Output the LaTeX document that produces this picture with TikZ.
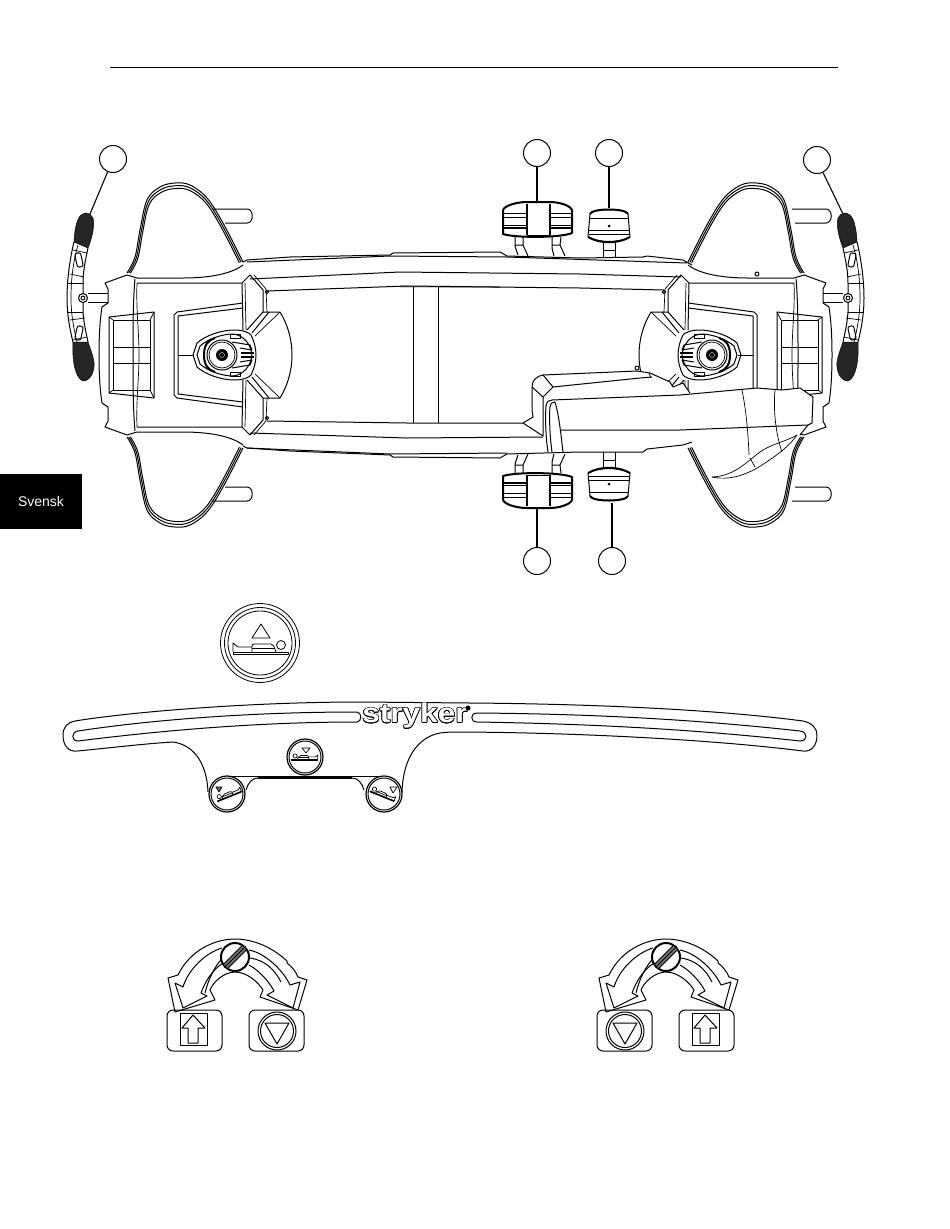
\documentclass[tikz,border=0pt]{standalone}
\usepackage{fontspec}
\setmainfont{Liberation Sans}
\usepackage{contour}
\contourlength{.55pt}

\tikzset{
    part/.style={line width=1pt},
    fine/.style={line width=.7pt},
    heavy/.style={line width=2pt},
    callout/.style={draw, circle, minimum size=27pt, inner sep=0pt, line width=1pt},
    leader/.style={line width=1.1pt},
    grip/.style={draw, fill=black!85, line width=.5pt}
}

% Wing of the end section, three nested outlines
\newcommand{\wingshape}{%
    \foreach \s in {1,.97,.94} {
        \draw[part, shift={(183,275)}, scale=\s, shift={(-183,-275)}] plot[smooth, tension=.6] coordinates {(127,273) (135,257) (140,230) (147,200) (160,187) (175,183) (190,185) (207,198) (223,223) (243,262)};
    }
}

% Upper half of an end section
\newcommand{\sectionhalf}{%
    \wingshape
    \draw[part] (99,355) .. controls (99,335) and (100,320) .. (102,307) -- (108,303) -- (108,289) -- (105,283) -- (127,275) -- (137,278) -- (183,278) .. controls (205,278) and (230,275) .. (243,265);
    \draw[part] (135,279) .. controls (133,300) and (133,330) .. (133,355);
    \draw[fine] (137,283) .. controls (136,310) and (139,330) .. (139,355);
    \draw[part] (137,283) -- (242,283) -- (250,275) -- (263,290) -- (263,312);
    \draw[fine] (254,275) -- (266,289) -- (267,312);
    \draw[part] (242,283) -- (243,330);
    \draw[fine] (245,283) -- (246,330);
    \draw[part] (267,292) circle (1.7);
    % plate beside the knob
    \draw[part] (263,312) -- (280,312) .. controls (288,325) and (292,340) .. (292,355);
    \draw[part] (263,312) -- (247,330);
    \draw[part] (269,312) -- (252,333);
    \draw[fine] (280,312) -- (255,336);
    % panel
    \draw[part] (174,355) -- (174,315) -- (177,312) -- (243,303);
    \draw[part] (178,355) -- (178,316) -- (243,308);
    \draw[fine] (178,355) -- (193,355);
    % footwell
    \draw[part] (109,355) -- (109,317) -- (154,312) -- (154,355);
    \draw[part] (113,355) -- (113,320) -- (150,320) -- (150,355);
    \draw[fine] (109,317) -- (113,320) (154,312) -- (150,320);
    \draw[fine] (113,347) -- (150,347);
}

% Upper half of the knob
\newcommand{\knobhalf}{%
    \draw[part] (193,355) -- (197,343) .. controls (205,336) and (220,330) .. (235,330) .. controls (243,330) and (250,333) .. (251,335) .. controls (254,341) and (256,348) .. (256,355);
    \draw[part] (197,355) -- (200,346) .. controls (208,339) and (222,334) .. (233,334) .. controls (244,335) and (251,345) .. (252,355);
    \draw[fine] (230,334) rectangle (240,338);
    \draw[heavy] (204,355) .. controls (204,345) and (208,340) .. (215,338);
    \draw[part] (232,342) -- (250,345) -- (252,350) -- (240,348);
    \draw[heavy] (241,353) -- (254,353);
}

% Knob centre
\newcommand{\knobhub}{%
    \draw[part, fill=white] (222,355) circle (15);
    \draw[fine] (222,355) circle (13);
    \fill (222,355) circle (6);
    \draw[white, line width=.3pt] (222,355) circle (2.5);
}

% Handle at the side of an end section
\newcommand{\sidehandle}{%
    \draw[part] (74,242) .. controls (70,258) and (67,280) .. (67,298) .. controls (67,315) and (70,330) .. (73,342);
    \draw[part] (88,248) .. controls (85,262) and (83,272) .. (83,283) -- (83,312) .. controls (84,325) and (86,332) .. (88,342);
    \draw[fine] (78,245) .. controls (73,262) and (71,280) .. (71,298) .. controls (71,315) and (74,330) .. (77,342);
    \draw[fine] (68,283) -- (83,283) (68,312) -- (83,312);
    \draw[fine] (73,250) -- (87,253) (70,274) -- (84,277) (70,320) -- (85,318) (73,340) -- (87,337);
    \draw[part, rounded corners=2pt, rotate around={12:(79,260)}] (76,253) rectangle (82,267);
    \draw[part, rounded corners=2pt, rotate around={-12:(79,333)}] (76,326) rectangle (82,340);
    \draw[part] (88,293) -- (108,293) (88,302) -- (108,302);
    \draw[grip] (85,213) .. controls (79,214) and (75,222) .. (74,242) -- (88,248) .. controls (92,238) and (95,226) .. (93,218) .. controls (92,215) and (89,213) .. (85,213) -- cycle;
    \draw[grip] (73,342) .. controls (72,360) and (75,378) .. (83,381) .. controls (90,381) and (95,372) .. (94,362) .. controls (93,355) and (90,348) .. (88,342) -- cycle;
    \draw[part, fill=white] (83,298) circle (4.5);
    \draw[part] (83,298) circle (2);
}

% Stub at the wing
\newcommand{\wingpeg}[1]{%
    \draw[part] (0,0) -- (34,0) .. controls (41,0) and (41,14) .. (34,14) -- (#1,14);
}

% Pedals
\newcommand{\bigpedal}{%
    \draw[part] (515,237) -- (515,246) -- (518,255) (523,237) -- (523,245) -- (528,256) (515,245) -- (523,245);
    \draw[part] (552,237) -- (552,248) -- (554,256) (561,237) -- (560,245) -- (565,256) (552,245) -- (560,245);
    \draw[heavy, fill=white] (503,234) -- (503,210) .. controls (505,205) and (518,202) .. (527,202) -- (550,202) .. controls (558,202) and (570,205) .. (572,210) -- (572,233) .. controls (560,238) and (515,238) .. (503,234) -- cycle;
    \draw[heavy] (527,204) -- (527,235) (550,204) -- (550,235);
    \draw[part] (527,235) -- (550,235);
    \foreach \ybar in {213,217,225} {
        \draw[part] (503,\ybar) -- (527,\ybar) (550,\ybar) -- (572,\ybar);
    }
    \draw[heavy] (503,227.5) -- (527,227.5) (550,227.5) -- (572,227.5);
}
\newcommand{\smallpedal}{%
    \draw[part] (603,243) -- (603,258) (615,243) -- (615,258) (603,250) -- (615,250);
    \draw[part, fill=white] (590,214) .. controls (592,208) and (626,208) .. (628,214) -- (630,237) .. controls (618,243) and (600,243) .. (588,237) -- cycle;
    \draw[heavy] (590,214) .. controls (592,208) and (626,208) .. (628,214);
    \draw[heavy] (588,237) .. controls (600,244) and (618,244) .. (630,237);
    \draw[part] (589,218) -- (629,218) (589,230) -- (630,230) (589,234) -- (630,234);
    \fill (609,226) circle (1.5);
}

% Patient on the bed
\newcommand{\patientbed}{%
    \draw (-27,9) -- (28,9) -- (28,11) -- (-27,11) -- cycle;
    \draw (-27,9) -- (-27,0) -- (-22,4) -- (-8,4);
    \draw[rounded corners=2pt] (-8,9) -- (-8,1) -- (13,1) -- (16,9);
    \draw (-8,5) -- (15,5);
    \draw (21,2) circle (4.5);
}

% Button on the bar
\newcommand{\barbutton}[2]{%
    \draw[line width=1.2pt, fill=white] (#1,#2) circle (18);
    \draw[part] (#1,#2) circle (16);
}

% Knob with its two arrows
\newcommand{\knobunit}{%
    \draw[part] (215,1000) -- (210,990) .. controls (213,982) and (224,972) .. (235,972) .. controls (247,972) and (258,982) .. (263,990) -- (260,997) -- (298,1010) -- (307,980) -- (298,977) .. controls (295,970) and (291,966) .. (287,963) -- (287,961) .. controls (270,945) and (250,939) .. (235,939) .. controls (215,939) and (190,950) .. (178,975) -- (168,978) -- (175,1012) -- cycle;
    \draw[part] (222,948) .. controls (205,953) and (188,970) .. (183,987) -- (175,983) -- (183,1008) -- (207,996) -- (201,993) .. controls (205,982) and (212,970) .. (223,963);
    \draw[part] (205,993) .. controls (208,980) and (215,965) .. (223,958);
    \draw[part] (249,950) .. controls (265,953) and (283,970) .. (290,985) -- (300,982) -- (293,1008) -- (267,995) -- (274,991) .. controls (270,983) and (260,971) .. (249,965);
    \draw[part] (250,958) .. controls (265,960) and (275,970) .. (281,982);
    \draw[heavy, fill=white] (235,957) circle (14);
    \begin{scope}[shift={(235,957)}, rotate=45]
        \fill[black!55] (-13,-3) rectangle (13,3);
        \draw[part] (-13.4,-3) -- (13.4,-3) (-13.4,3) -- (13.4,3);
        \draw[part] (-13.7,0) -- (13.7,0);
    \end{scope}
}

% Boxes under the arrows
\newcommand{\upbox}{%
    \draw[part, rounded corners=6pt] (167,1010) rectangle (222,1051);
    \draw[part] (180,1013) rectangle (207,1045);
    \draw[part] (193,1015) -- (182,1028) -- (188,1028) -- (188,1043) -- (198,1043) -- (198,1028) -- (205,1028) -- cycle;
}
\newcommand{\downbox}{%
    \draw[part, rounded corners=6pt] (249,1010) rectangle (304,1051);
    \draw[part] (277,1031) circle (19);
    \draw[part] (277,1031) circle (16.5);
    \draw[part] (265,1023) -- (289,1023) -- (277,1044) -- cycle;
}

\begin{document}
\begin{tikzpicture}[x=1pt, y=-1pt, line join=round]
    \useasboundingbox (0,0) rectangle (950,1229);

    % Head rule and tab
    \coordinate (ruleleft) at (110,67);
    \coordinate (ruleright) at (838,67);
    \draw[line width=1pt] (ruleleft) -- (ruleright);
    \node[fill=black, text=white, minimum width=82pt, minimum height=55pt, inner sep=0pt, font=\fontsize{14}{16}\selectfont] (tab) at (41,501.5) {Svensk};

    % Pegs behind the wings
    \begin{scope}[shift={(213,209)}] \wingpeg{12} \end{scope}
    \begin{scope}[shift={(213,501)}, yscale=-1] \wingpeg{12} \end{scope}
    \begin{scope}[shift={(792,209)}] \wingpeg{3} \end{scope}
    \begin{scope}[shift={(792,501)}, yscale=-1] \wingpeg{3} \end{scope}

    % End sections
    \sectionhalf \knobhalf
    \begin{scope}[shift={(0,710)}, yscale=-1] \sectionhalf \knobhalf \end{scope}
    \knobhub
    \sidehandle
    \begin{scope}[shift={(931,0)}, xscale=-1]
        \sectionhalf
        \sidehandle
    \end{scope}
    \begin{scope}[shift={(931,710)}, xscale=-1, yscale=-1] \sectionhalf \end{scope}
    \begin{scope}[shift={(934,0)}, xscale=-1]
        \knobhalf
        \begin{scope}[shift={(0,710)}, yscale=-1] \knobhalf \end{scope}
        \knobhub
    \end{scope}
    \draw[part] (757,274) circle (2);

    % Side rails
    \draw[part] (243,262) -- (247,260) -- (290,257) -- (390,255) -- (393,253) -- (500,252) -- (507,256) -- (580,258) -- (643,257) -- (647,256) -- (683,260) -- (692,265);
    \draw[part] (247,262) -- (390,256) -- (507,257) -- (687,263);
    \draw[part] (250,279) -- (400,272) -- (580,274) -- (681,277);
    \draw[black!45, line width=1.6pt] (400,286.5) -- (500,287);
    \draw[part] (267,291) -- (407,286) -- (580,288) -- (664,290);
    \draw[fine] (413,286) -- (413,423);
    \draw[fine] (438,286) -- (438,423);

    % Cover on the lower right
    \fill[white] (543,375) -- (637,371) -- (650,373) -- (670,382) -- (673,387) -- (683,383) -- (690,393) -- (757,388) -- (782,390) -- (800,388) -- (813,397) -- (812,423) -- (808,425) -- (797,437) -- (694,447) -- (552,452) -- (533,417) -- (532,387) -- cycle;
    \draw[part] (523,423) -- (533,417) -- (532,410) -- (532,387) .. controls (532,380) and (537,376) .. (543,375) -- (637,371) -- (650,373) -- (670,382) -- (673,387) -- (683,383) -- (690,393);
    \draw[part] (532,387) -- (543,397) -- (543,436) -- (523,423);
    \draw[part] (543,375) -- (553,387) -- (543,397);
    \draw[part] (553,387) -- (640,378) -- (652,377);
    \draw[fine] (649,373) -- (651,378);
    \draw[part] (637,368) circle (2);
    \draw[part] (548,452) .. controls (546,440) and (545,420) .. (546,406) .. controls (547,401) and (549,400) .. (552,400) -- (680,395) -- (757,388) -- (782,390) -- (800,388) -- (813,397) -- (812,423) -- (808,425) -- (680,430) -- (560,430);
    \draw[part] (552,452) .. controls (550,438) and (549,418) .. (550,407) .. controls (551,403) and (552,402) .. (555,402);
    \draw[part] (555,402) .. controls (559,415) and (561,435) .. (563,452);
    \draw[fine] (742,390) .. controls (746,410) and (748,430) .. (749,455);
    \draw[fine] (775,390) .. controls (773,410) and (776,435) .. (782,452);
    \draw[fine] (712,477) .. controls (737,476) and (750,458) .. (763,450) .. controls (775,443) and (787,441) .. (797,435);
    \draw[fine] (712,477) .. controls (735,482) and (755,470) .. (768,461) .. controls (780,453) and (790,445) .. (797,435);
    \draw[fine] (750,458) -- (755,467);
    \draw[part] (808,425) -- (800,435);

    % Lower rail
    \draw[part] (267,421) -- (407,423) -- (523,423);
    \draw[part] (250,433) -- (407,438) -- (543,437);
    \draw[part] (243,446) -- (247,448) -- (290,451) -- (390,455) -- (393,457) -- (500,458) -- (507,454) -- (580,452) -- (643,452) -- (647,449) -- (683,445) -- (692,442);
    \draw[part] (247,448) -- (390,454) -- (507,453);

    % Pedals
    \bigpedal
    \smallpedal
    \begin{scope}[shift={(0,710)}, yscale=-1]
        \bigpedal
        \smallpedal
    \end{scope}

    % Callouts
    \node[callout] (callhandleleft) at (113,159) {};
    \node[callout] (callbigtop) at (537,153) {};
    \node[callout] (callsmalltop) at (609,153) {};
    \node[callout] (callhandleright) at (817,160) {};
    \node[callout] (callbigbottom) at (537,561) {};
    \node[callout] (callsmallbottom) at (612,561) {};
    \coordinate (handleleft) at (90,214);
    \coordinate (bigtop) at (537,201);
    \coordinate (smalltop) at (609,208);
    \coordinate (handleright) at (843,214);
    \coordinate (bigbottom) at (537,509);
    \coordinate (smallbottom) at (612,503);
    \draw[leader] (callhandleleft) -- (handleleft);
    \draw[leader] (callbigtop) -- (bigtop);
    \draw[leader] (callsmalltop) -- (smalltop);
    \draw[leader] (callhandleright) -- (handleright);
    \draw[leader] (callbigbottom) -- (bigbottom);
    \draw[leader] (callsmallbottom) -- (smallbottom);

    % Large button
    \draw[line width=.8pt] (260,643) circle (39.5);
    \draw[line width=.8pt] (260,643) circle (35.5);
    \draw[line width=.8pt] (260,643) circle (32);
    \draw[line width=.8pt] (261,624) -- (252,638) -- (270,638) -- cycle;
    \begin{scope}[shift={(260,643)}, line width=.8pt] \patientbed \end{scope}

    % Bar and slots
    \draw[part] (208,792) .. controls (207,765) and (195,745) .. (173,742) .. controls (140,744) and (100,749) .. (77,751) .. controls (68,752) and (63,745) .. (63,735) .. controls (63,727) and (68,722) .. (75,721) .. controls (130,712) and (250,702) .. (360,702) -- (470,703) .. controls (600,704) and (720,710) .. (803,721) .. controls (812,723) and (817,728) .. (817,735) .. controls (817,745) and (812,752) .. (803,751) .. controls (700,738) and (550,732) .. (450,732) -- (440,733) .. controls (418,737) and (403,758) .. (402,792);
    \draw[part] (357,712) .. controls (250,712) and (150,720) .. (78,731) .. controls (71,732) and (71,741) .. (78,741) .. controls (150,732) and (250,722) .. (357,722) .. controls (362,722) and (362,712) .. (357,712) -- cycle;
    \draw[part] (477,713) .. controls (600,714) and (700,720) .. (800,731) .. controls (808,732) and (808,741) .. (800,741) .. controls (700,730) and (600,724) .. (477,722) .. controls (470,722) and (470,713) .. (477,713) -- cycle;
    \draw[part] (223,776) -- (387,776);
    \draw[heavy] (258,778) -- (352,778);
    \draw[part] (246,790) .. controls (248,783) and (252,778) .. (258,778);
    \draw[part] (352,778) .. controls (358,778) and (362,783) .. (364,790);

    % Logo
    \node[inner sep=0pt, text=white] (logo) at (415,716) {\scalebox{1.17}[1]{\fontsize{27}{27}\selectfont\bfseries\contour{black}{stryker}}};
    \fill (468,708) circle (2.5);

    % Buttons on the bar
    \barbutton{305}{757}
    \barbutton{227}{794}
    \barbutton{384}{794}
    \begin{scope}[shift={(305,755)}, xscale=-.47, yscale=.47, line width=.7pt] \patientbed \end{scope}
    \draw[line width=.7pt] (302,748) -- (310,748) -- (306,753) -- cycle;
    \begin{scope}[shift={(228,792)}, rotate=22, xscale=-.47, yscale=.47, line width=.7pt] \patientbed \end{scope}
    \draw[line width=.7pt, fill=black!60] (216,787) -- (222,787) -- (219,792) -- cycle;
    \begin{scope}[shift={(384,792)}, rotate=-22, xscale=-.47, yscale=.47, line width=.7pt] \patientbed \end{scope}
    \draw[line width=.7pt] (390,787) -- (397,787) -- (393,793) -- cycle;

    % Knob units
    \knobunit
    \upbox
    \downbox
    \begin{scope}[shift={(431,0)}] \knobunit \end{scope}
    \begin{scope}[shift={(348,0)}] \downbox \end{scope}
    \begin{scope}[shift={(512,0)}] \upbox \end{scope}
\end{tikzpicture}
\end{document}
